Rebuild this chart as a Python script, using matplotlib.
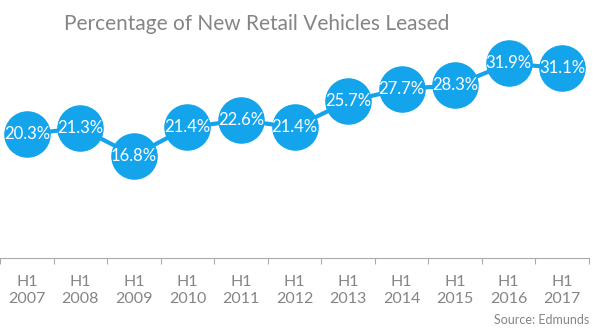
import matplotlib.pyplot as plt

years = ['2007', '2008', '2009', '2010', '2011', '2012', '2013', '2014', '2015', '2016', '2017']
share = [20.3, 21.3, 16.8, 21.4, 22.6, 21.4, 25.7, 27.7, 28.3, 31.9, 31.1]
tick_labels = ['H1\n' + y for y in years]

BLUE = '#14A4EC'
GREY = '#858585'

plt.rcParams['font.family'] = ['Lato', 'DejaVu Sans']

fig = plt.figure(figsize=(6, 3.28), dpi=100)
ax = fig.add_axes([0, 1 - 258 / 328, 589 / 600, 244 / 328])

x = list(range(len(years)))
ax.plot(x, share, color=BLUE, lw=3, zorder=2)
ax.plot(x, share, 'o', ms=32.5, color=BLUE, mec=BLUE, zorder=3)
for xi, v in zip(x, share):
    ax.text(xi, v, f'{v}%', ha='center', va='center', color='white',
            fontsize=12, zorder=4)

ax.set_xlim(-0.5, len(years) - 0.5)
ax.set_ylim(0, 40)
ax.set_yticks([])
ax.set_xticks([i - 0.5 for i in range(len(years) + 1)])
ax.set_xticklabels([])
ax.set_xticks(x, minor=True)
ax.set_xticklabels(tick_labels, minor=True, color=GREY, fontsize=11.5, linespacing=1.3)
ax.tick_params(axis='x', which='major', length=4, color='#aaaaaa', direction='out')
ax.tick_params(axis='x', which='minor', length=0, pad=12)

for s in ['top', 'left', 'right']:
    ax.spines[s].set_visible(False)
ax.spines['bottom'].set_color('#aaaaaa')

fig.text(257 / 600, 1 - 24 / 328, 'Percentage of New Retail Vehicles Leased',
         ha='center', va='center', color=GREY, fontsize=15)
fig.text(589 / 600, 1 - 320 / 328, 'Source: Edmunds', ha='right', va='center',
         color=GREY, fontsize=9)

fig.savefig('out.png', dpi=100)
